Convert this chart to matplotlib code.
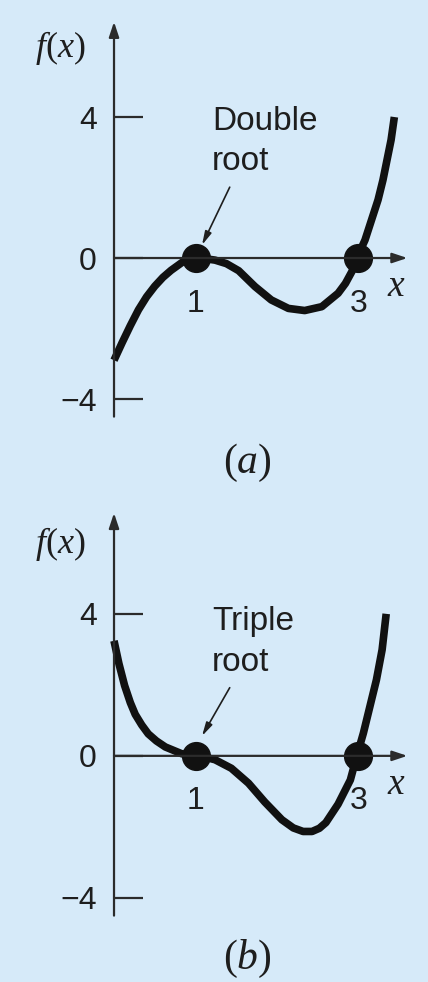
import matplotlib
matplotlib.use("Agg")
import matplotlib.pyplot as plt

plt.rcParams["mathtext.fontset"] = "custom"
plt.rcParams["mathtext.rm"] = "Liberation Serif"
plt.rcParams["mathtext.it"] = "Liberation Serif:italic"

# curve (a): double root at x = 1
xa = [0.0, 0.1, 0.2, 0.3, 0.4, 0.5, 0.6, 0.7, 0.85, 1.0, 1.12, 1.24, 1.38, 1.53, 1.73, 1.93,
      2.14, 2.34, 2.55, 2.75, 2.84, 2.92, 2.98, 3.08, 3.16, 3.24, 3.3, 3.35, 3.4, 3.44]
ya = [-2.9, -2.4, -1.92, -1.47, -1.1, -0.8, -0.55, -0.35, -0.1, 0.0, -0.02, -0.06, -0.16, -0.36, -0.81, -1.19,
      -1.43, -1.49, -1.38, -1.0, -0.72, -0.38, 0.0, 0.51, 1.08, 1.65, 2.21, 2.78, 3.35, 4.0]

# curve (b): triple root at x = 1
xb = [0.0, 0.06, 0.13, 0.2, 0.26, 0.34, 0.42, 0.52, 0.63, 0.83, 1.0, 1.12, 1.24, 1.44, 1.65, 1.85,
      2.06, 2.2, 2.32, 2.43, 2.52, 2.6, 2.75, 2.9, 2.98, 3.06, 3.14, 3.22, 3.29, 3.34]
yb = [3.24, 2.6, 1.98, 1.5, 1.17, 0.87, 0.62, 0.42, 0.25, 0.06, 0.0, -0.04, -0.11, -0.35, -0.77, -1.3,
      -1.8, -2.03, -2.13, -2.13, -2.04, -1.88, -1.36, -0.68, 0.0, 0.64, 1.39, 2.14, 2.99, 4.0]

roots = [1, 3]
yticks = [-4, 0, 4]
ytick_labels = ["\u22124", "0", "4"]

bg = "#d6eaf9"
ink = "#111111"
txt = "#1e1e1e"
axis_col = "#2b2b2b"

fig = plt.figure(figsize=(4.28, 9.82), dpi=100, facecolor=bg)


def panel(rect, ylim, xs, ys, note, note_y, arrow_from, arrow_to, tag, ftag_y, tag_y):
    ax = fig.add_axes(rect)
    ax.set_facecolor(bg)
    ax.set_xlim(-1.399, 3.853)
    ax.set_ylim(*ylim)

    for s in ax.spines.values():
        s.set_visible(False)
    ax.spines["left"].set_position(("data", 0))
    ax.spines["bottom"].set_position(("data", 0))

    ax.set_yticks(yticks)
    ax.set_yticklabels(ytick_labels, fontfamily="Liberation Sans", fontsize=23, color=txt)
    ax.tick_params(axis="y", direction="in", length=21, width=1.6, color=axis_col, pad=12.5)
    ax.set_xticks(roots)
    ax.set_xticklabels([str(r) for r in roots], fontfamily="Liberation Sans", fontsize=23, color=txt)
    ax.tick_params(axis="x", length=0, pad=22)

    # axes with arrow heads
    arr = dict(arrowstyle="-|>,head_length=0.9,head_width=0.3", color=axis_col, lw=1.6,
               shrinkA=0, shrinkB=0)
    ax.annotate("", xy=(0, ylim[1] - 0.62), xytext=(0, -4.5), arrowprops=arr)
    ax.annotate("", xy=(3.6, 0), xytext=(0, 0), arrowprops=arr)

    ax.plot(xs, ys, color=ink, lw=5.5, solid_capstyle="butt", solid_joinstyle="round")
    ax.plot(roots, [0, 0], "o", color=ink, markersize=20)

    ax.text(1.2, note_y, note, fontfamily="Liberation Sans", fontsize=24,
            ha="left", va="center", linespacing=1.4, color=txt)
    ax.annotate("", xy=arrow_to, xytext=arrow_from,
                arrowprops=dict(arrowstyle="-|>,head_length=0.8,head_width=0.2",
                                color=txt, lw=1.2, shrinkA=0, shrinkB=0))

    ax.text(-0.66, ftag_y, r"$f(x)$", fontsize=26, ha="center", va="center", color=txt)
    ax.text(3.47, -0.79, r"$x$", fontsize=27, ha="center", va="center", color=txt)
    ax.text(1.64, tag_y, tag, fontsize=30, ha="center", va="center", color=txt)
    return ax


panel([0, 0.5, 1, 0.5], (-6.61, 7.32), xa, ya, "Double\nroot", 3.3,
      (1.42, 2.01), (1.08, 0.37), r"$(a)$", 5.96, -5.82)
panel([0, 0.0, 1, 0.5], (-6.37, 7.46), xb, yb, "Triple\nroot", 3.2,
      (1.42, 1.92), (1.08, 0.56), r"$(b)$", 5.97, -5.72)

fig.savefig("out.png", dpi=100, facecolor=bg)
